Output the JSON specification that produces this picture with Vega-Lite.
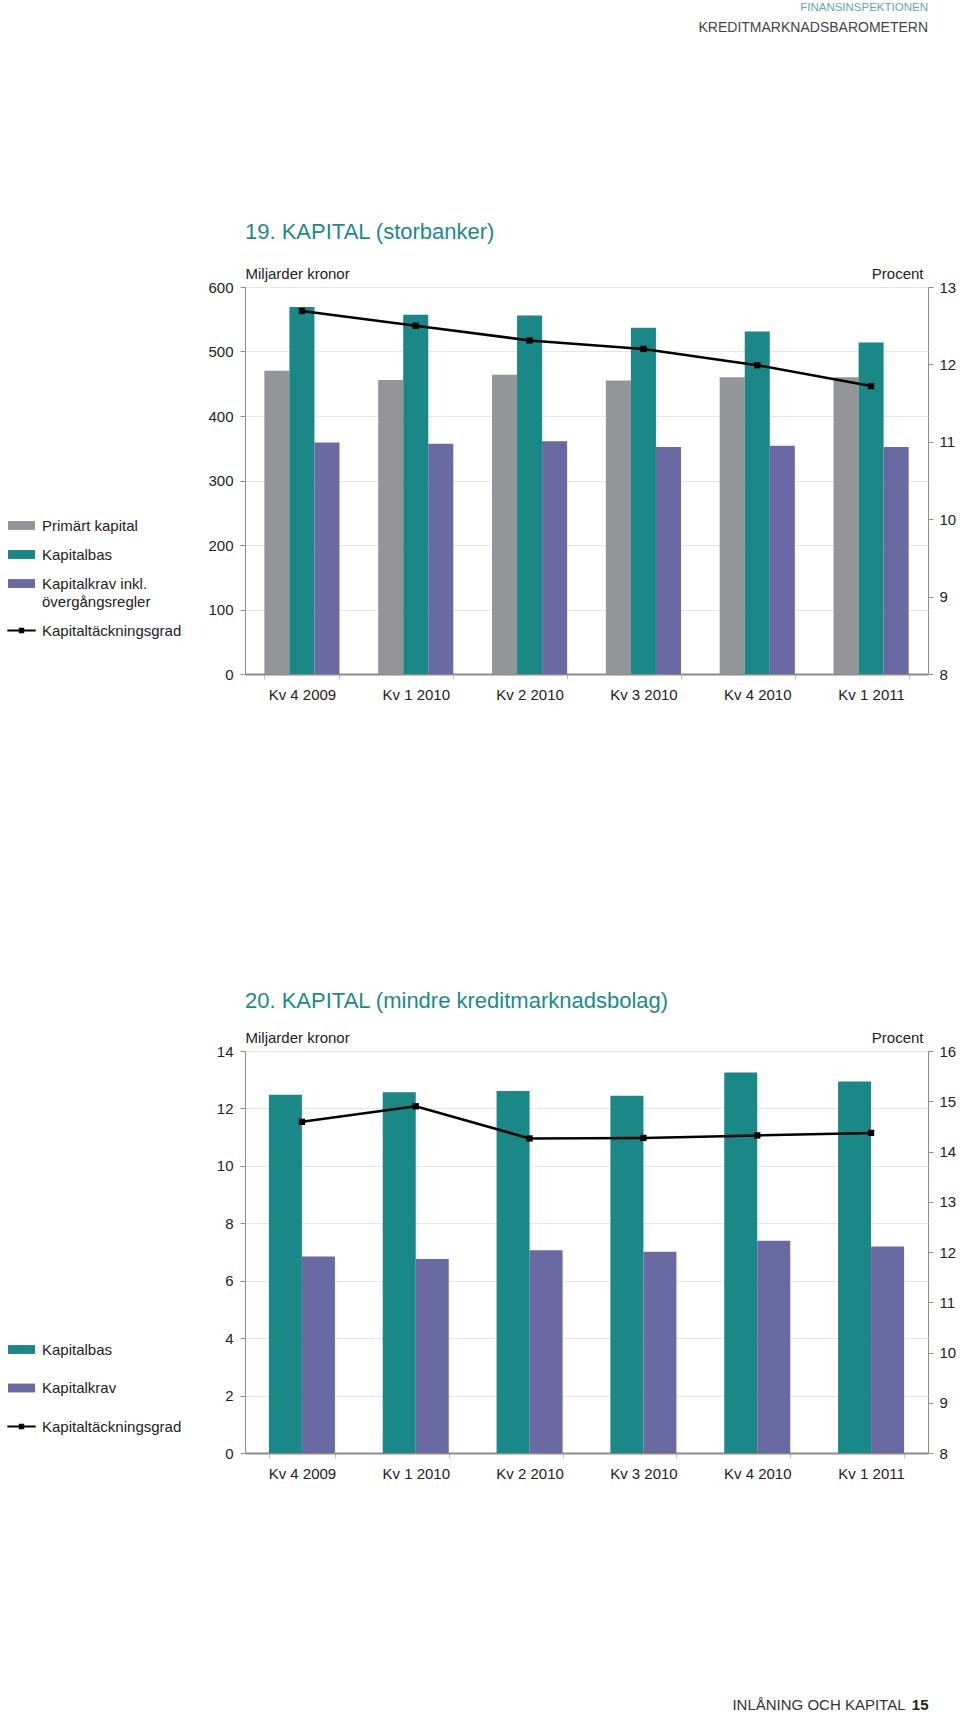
{
  "$schema": "https://vega.github.io/schema/vega-lite/v6.json",
  "background": "white",
  "padding": {"left": 7, "top": 2, "right": 0, "bottom": 0},
  "config": {
    "font": "Liberation Sans",
    "view": {"stroke": "#8c8c8c", "strokeWidth": 1},
    "axis": {"labelFont": "Liberation Sans", "labelFontSize": 15, "labelColor": "#222222", "titleFont": "Liberation Sans", "titleFontSize": 15, "titleFontWeight": "normal", "titleColor": "#222222"},
    "legend": {"labelFont": "Liberation Sans", "labelFontSize": 15, "labelColor": "#222222", "padding": 0, "labelOffset": 7, "symbolSize": 729, "symbolStrokeWidth": 0, "labelLimit": 400, "symbolType": "M-1,-0.33H1V0.33H-1Z"},
    "title": {"font": "Liberation Sans", "fontWeight": "normal"}
  },
  "title": {"text": "FINANSINSPEKTIONEN", "subtitle": "KREDITMARKNADSBAROMETERN", "anchor": "end", "frame": "group", "fontSize": 11.5, "color": "#5ea8ae", "subtitleFont": "Liberation Sans", "subtitleFontSize": 14, "subtitleColor": "#444444", "subtitlePadding": 7, "offset": 186},
  "datasets": {
    "c1bars": [
      {"kvartal": "Kv 4 2009", "serie": "Primärt kapital", "varde": 470},
      {"kvartal": "Kv 1 2010", "serie": "Primärt kapital", "varde": 456},
      {"kvartal": "Kv 2 2010", "serie": "Primärt kapital", "varde": 464},
      {"kvartal": "Kv 3 2010", "serie": "Primärt kapital", "varde": 455},
      {"kvartal": "Kv 4 2010", "serie": "Primärt kapital", "varde": 460},
      {"kvartal": "Kv 1 2011", "serie": "Primärt kapital", "varde": 460},
      {"kvartal": "Kv 4 2009", "serie": "Kapitalbas", "varde": 569},
      {"kvartal": "Kv 1 2010", "serie": "Kapitalbas", "varde": 557},
      {"kvartal": "Kv 2 2010", "serie": "Kapitalbas", "varde": 556},
      {"kvartal": "Kv 3 2010", "serie": "Kapitalbas", "varde": 537},
      {"kvartal": "Kv 4 2010", "serie": "Kapitalbas", "varde": 531},
      {"kvartal": "Kv 1 2011", "serie": "Kapitalbas", "varde": 514},
      {"kvartal": "Kv 4 2009", "serie": "Kapitalkrav inkl. övergångsregler", "varde": 359},
      {"kvartal": "Kv 1 2010", "serie": "Kapitalkrav inkl. övergångsregler", "varde": 357},
      {"kvartal": "Kv 2 2010", "serie": "Kapitalkrav inkl. övergångsregler", "varde": 361},
      {"kvartal": "Kv 3 2010", "serie": "Kapitalkrav inkl. övergångsregler", "varde": 352},
      {"kvartal": "Kv 4 2010", "serie": "Kapitalkrav inkl. övergångsregler", "varde": 354},
      {"kvartal": "Kv 1 2011", "serie": "Kapitalkrav inkl. övergångsregler", "varde": 352}
    ],
    "c1line": [
      {"kvartal": "Kv 4 2009", "grad": 12.69},
      {"kvartal": "Kv 1 2010", "grad": 12.50},
      {"kvartal": "Kv 2 2010", "grad": 12.31},
      {"kvartal": "Kv 3 2010", "grad": 12.20},
      {"kvartal": "Kv 4 2010", "grad": 11.99},
      {"kvartal": "Kv 1 2011", "grad": 11.72}
    ],
    "c2bars": [
      {"kvartal": "Kv 4 2009", "serie": "Kapitalbas", "varde": 12.48},
      {"kvartal": "Kv 1 2010", "serie": "Kapitalbas", "varde": 12.56},
      {"kvartal": "Kv 2 2010", "serie": "Kapitalbas", "varde": 12.61},
      {"kvartal": "Kv 3 2010", "serie": "Kapitalbas", "varde": 12.44},
      {"kvartal": "Kv 4 2010", "serie": "Kapitalbas", "varde": 13.25},
      {"kvartal": "Kv 1 2011", "serie": "Kapitalbas", "varde": 12.94},
      {"kvartal": "Kv 4 2009", "serie": "Kapitalkrav", "varde": 6.84},
      {"kvartal": "Kv 1 2010", "serie": "Kapitalkrav", "varde": 6.76},
      {"kvartal": "Kv 2 2010", "serie": "Kapitalkrav", "varde": 7.06},
      {"kvartal": "Kv 3 2010", "serie": "Kapitalkrav", "varde": 7.01},
      {"kvartal": "Kv 4 2010", "serie": "Kapitalkrav", "varde": 7.39},
      {"kvartal": "Kv 1 2011", "serie": "Kapitalkrav", "varde": 7.19}
    ],
    "c2line": [
      {"kvartal": "Kv 4 2009", "grad": 14.59},
      {"kvartal": "Kv 1 2010", "grad": 14.90},
      {"kvartal": "Kv 2 2010", "grad": 14.26},
      {"kvartal": "Kv 3 2010", "grad": 14.27},
      {"kvartal": "Kv 4 2010", "grad": 14.32},
      {"kvartal": "Kv 1 2011", "grad": 14.37}
    ]
  },
  "spacing": 286,
  "resolve": {"scale": {"color": "independent", "x": "independent", "xOffset": "independent", "y": "independent"}, "legend": {"color": "independent"}},
  "vconcat": [
    {
      "width": 683,
      "height": 387,
      "title": {"text": "19. KAPITAL (storbanker)", "anchor": "start", "frame": "group", "fontSize": 22, "color": "#1c8a8c", "offset": 22},
      "layer": [
        {
          "data": {"name": "c1bars"},
          "mark": {"type": "bar"},
          "encoding": {
            "x": {"field": "kvartal", "type": "nominal", "sort": null,
                  "scale": {"paddingInner": 0.34, "paddingOuter": 0.17},
                  "axis": {"title": null, "labelAngle": 0, "tickBand": "extent", "tickSize": 5, "tickColor": "#c0c0c0", "domainColor": "#8c8c8c", "domainWidth": 2, "labelPadding": 8, "grid": false}},
            "xOffset": {"field": "serie", "type": "nominal", "sort": null,
                  "scale": {"domain": ["Primärt kapital", "Kapitalbas", "Kapitalkrav inkl. övergångsregler"], "paddingInner": 0, "paddingOuter": 0}},
            "y": {"field": "varde", "type": "quantitative",
                  "scale": {"domain": [0, 600], "nice": false},
                  "axis": {"values": [0, 100, 200, 300, 400, 500, 600], "grid": true, "gridColor": "#e6e6e6", "domain": false, "tickSize": 5, "tickColor": "#8c8c8c", "labelPadding": 7,
                           "title": "Miljarder kronor", "titleAngle": 0, "titleAlign": "left", "titleBaseline": "middle", "titleX": 0, "titleY": -14}},
            "color": {"field": "serie", "type": "nominal",
                  "scale": {"domain": ["Primärt kapital", "Kapitalbas", "Kapitalkrav inkl. övergångsregler", "Kapitaltäckningsgrad"], "range": ["#939598", "#1a8886", "#696aa3", "#000000"]},
                  "legend": {"orient": "none", "legendX": -237, "legendY": 225, "title": null, "rowPadding": 7,
                             "labelExpr": "datum.value == 'Kapitalkrav inkl. övergångsregler' ? ['Kapitalkrav inkl.', 'övergångsregler'] : datum.label",
                             "encode": {
                               "symbols": {"update": {"shape": {"signal": "datum.value == 'Kapitaltäckningsgrad' ? 'M-1.05,-0.08H1.05V0.08H-1.05Z M-0.2,-0.2H0.2V0.2H-0.2Z' : 'M-1,-0.33H1V0.33H-1Z'"}}},
                               "labels": {"update": {"lineHeight": {"value": 18.5}}}
                             }}}
          }
        },
        {
          "data": {"name": "c1line"},
          "mark": {"type": "line", "color": "#000000", "strokeWidth": 2.5, "point": {"shape": "square", "size": 40, "filled": true, "color": "#000000"}},
          "encoding": {
            "x": {"field": "kvartal", "type": "nominal", "sort": null},
            "y": {"field": "grad", "type": "quantitative",
                  "scale": {"domain": [8, 13], "nice": false},
                  "axis": {"orient": "right", "values": [8, 9, 10, 11, 12, 13], "grid": false, "domain": false, "tickSize": 5, "tickColor": "#8c8c8c", "labelPadding": 6,
                           "title": "Procent", "titleAngle": 0, "titleAlign": "right", "titleBaseline": "middle", "titleX": -5, "titleY": -14}}
          }
        }
      ],
      "resolve": {"scale": {"y": "independent"}}
    },
    {
      "width": 683,
      "height": 402,
      "title": {"text": "20. KAPITAL (mindre kreditmarknadsbolag)", "anchor": "start", "frame": "group", "fontSize": 22, "color": "#1c8a8c", "offset": 17},
      "layer": [
        {
          "data": {"name": "c2bars"},
          "mark": {"type": "bar"},
          "encoding": {
            "x": {"field": "kvartal", "type": "nominal", "sort": null,
                  "scale": {"paddingInner": 0.42, "paddingOuter": 0.21},
                  "axis": {"labelAngle": 0, "tickBand": "extent", "tickSize": 5, "tickColor": "#c0c0c0", "domainColor": "#8c8c8c", "domainWidth": 2, "labelPadding": 8, "grid": false,
                           "title": "INLÅNING OCH KAPITAL", "titleFontSize": 15, "titleColor": "#333333", "titleAlign": "right", "titleBaseline": "middle", "titleX": 660, "titleY": 251}},
            "xOffset": {"field": "serie", "type": "nominal", "sort": null,
                  "scale": {"domain": ["Kapitalbas", "Kapitalkrav"], "paddingInner": 0, "paddingOuter": 0}},
            "y": {"field": "varde", "type": "quantitative",
                  "scale": {"domain": [0, 14], "nice": false},
                  "axis": {"values": [0, 2, 4, 6, 8, 10, 12, 14], "grid": true, "gridColor": "#e6e6e6", "domain": false, "tickSize": 5, "tickColor": "#8c8c8c", "labelPadding": 7,
                           "title": "Miljarder kronor", "titleAngle": 0, "titleAlign": "left", "titleBaseline": "middle", "titleX": 0, "titleY": -14}},
            "color": {"field": "serie", "type": "nominal",
                  "scale": {"domain": ["Kapitalbas", "Kapitalkrav", "Kapitaltäckningsgrad"], "range": ["#1a8886", "#696aa3", "#000000"]},
                  "legend": {"orient": "none", "legendX": -237, "legendY": 285, "title": null, "rowPadding": 16.5,
                             "encode": {"symbols": {"update": {"shape": {"signal": "datum.value == 'Kapitaltäckningsgrad' ? 'M-1.05,-0.08H1.05V0.08H-1.05Z M-0.2,-0.2H0.2V0.2H-0.2Z' : 'M-1,-0.33H1V0.33H-1Z'"}}}}}}
          }
        },
        {
          "data": {"name": "c2line"},
          "mark": {"type": "line", "color": "#000000", "strokeWidth": 2.5, "point": {"shape": "square", "size": 40, "filled": true, "color": "#000000"}},
          "encoding": {
            "x": {"field": "kvartal", "type": "nominal", "sort": null,
                  "axis": {"orient": "bottom", "labels": false, "ticks": false, "domain": false, "grid": false,
                           "title": "15", "titleFontSize": 15, "titleFontWeight": "bold", "titleColor": "#222222", "titleAlign": "right", "titleBaseline": "middle", "titleX": 683, "titleY": 251}},
            "y": {"field": "grad", "type": "quantitative",
                  "scale": {"domain": [8, 16], "nice": false},
                  "axis": {"orient": "right", "values": [8, 9, 10, 11, 12, 13, 14, 15, 16], "grid": false, "domain": false, "tickSize": 5, "tickColor": "#8c8c8c", "labelPadding": 6,
                           "title": "Procent", "titleAngle": 0, "titleAlign": "right", "titleBaseline": "middle", "titleX": -5, "titleY": -14}}
          }
        }
      ],
      "resolve": {"scale": {"y": "independent", "x": "independent"}}
    }
  ]
}
